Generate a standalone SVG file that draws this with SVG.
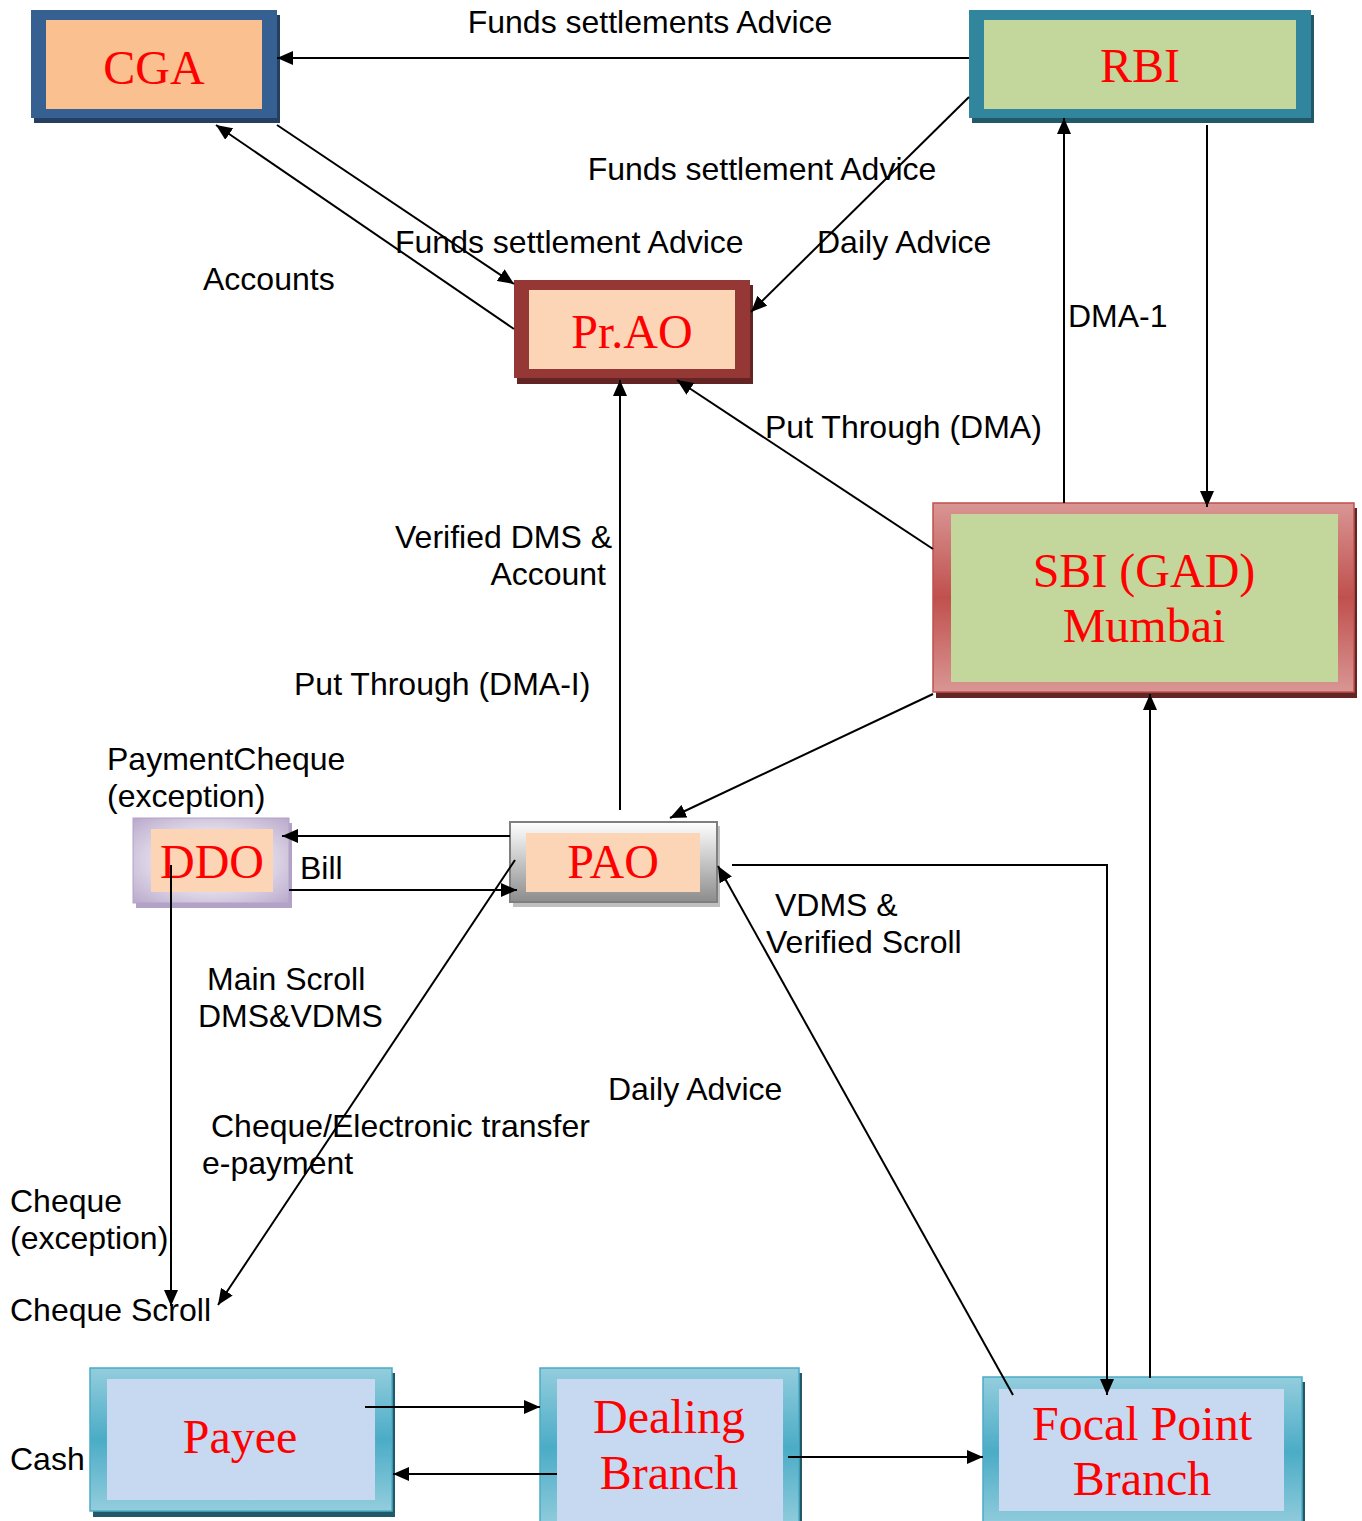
<svg xmlns="http://www.w3.org/2000/svg" width="1362" height="1521" viewBox="0 0 1362 1521">
<defs>
<style>
.lbl{font-family:"Liberation Sans",Arial,sans-serif;font-size:32px;fill:#000}
.nt{font-family:"Liberation Serif","Times New Roman",serif;font-size:48px;fill:#ff0000;text-anchor:middle}
.ln{fill:none;stroke:#000;stroke-width:2}
.arr{marker-end:url(#ah)}
</style>
<marker id="ah" viewBox="0 0 16 14" refX="16" refY="7" markerWidth="16" markerHeight="14" orient="auto" markerUnits="userSpaceOnUse"><path d="M0,0 L16,7 L0,14 z" fill="#000"/></marker>
<linearGradient id="gSbi" x1="0" y1="0" x2="0" y2="1"><stop offset="0" stop-color="#d99694"/><stop offset="0.5" stop-color="#c0504d"/><stop offset="1" stop-color="#d99694"/></linearGradient>
<linearGradient id="gCyan" x1="0" y1="0" x2="0" y2="1"><stop offset="0" stop-color="#93cddd"/><stop offset="0.5" stop-color="#4bacc6"/><stop offset="1" stop-color="#93cddd"/></linearGradient>
<linearGradient id="gPao" x1="0" y1="0" x2="0" y2="1"><stop offset="0" stop-color="#ffffff"/><stop offset="1" stop-color="#8c8c8c"/></linearGradient>
<radialGradient id="gDdo" cx="0.5" cy="0.5" r="0.75"><stop offset="0.3" stop-color="#f2eff6"/><stop offset="1" stop-color="#b3a2c7"/></radialGradient>
</defs>
<rect width="1362" height="1521" fill="#fff"/>

<g id="cga">
<rect x="34" y="15" width="246" height="108" fill="#243f60"/>
<rect x="31" y="10" width="246" height="108" fill="#366092"/>
<rect x="46" y="20" width="216" height="89" fill="#fac090"/>
<text class="nt" x="154" y="84">CGA</text>
</g>

<g id="rbi">
<rect x="972" y="15" width="342" height="108" fill="#215968"/>
<rect x="969" y="10" width="342" height="108" fill="#31859c"/>
<rect x="984" y="20" width="312" height="89" fill="#c3d69b"/>
<text class="nt" x="1140" y="82">RBI</text>
</g>

<g id="prao">
<rect x="517" y="285" width="236" height="99" fill="#632523"/>
<rect x="514" y="280" width="236" height="98" fill="#953735"/>
<rect x="529" y="290" width="206" height="79" fill="#fbd5b5"/>
<text class="nt" x="632" y="348">Pr.AO</text>
</g>

<g id="sbi">
<rect x="936" y="508" width="421" height="190" fill="#632523"/>
<rect x="933" y="503" width="421" height="189" fill="url(#gSbi)" stroke="#c0504d" stroke-width="1.5"/>
<rect x="951" y="514" width="387" height="168" fill="#c3d69b"/>
<text class="nt" x="1144" y="587">SBI (GAD)</text>
<text class="nt" x="1144" y="642">Mumbai</text>
</g>

<g id="ddo">
<rect x="136" y="823" width="156" height="85" fill="#b3a2c7"/>
<rect x="133" y="818" width="156" height="85" fill="url(#gDdo)" stroke="#b3a2c7" stroke-width="1"/>
<rect x="151" y="829" width="122" height="63" fill="#fbd5b5"/>
<text class="nt" x="212" y="878">DDO</text>
</g>

<g id="pao">
<rect x="513" y="826" width="207" height="81" fill="#bfbfbf"/>
<rect x="510" y="822" width="207" height="80" fill="url(#gPao)" stroke="#7f7f7f" stroke-width="2"/>
<rect x="526" y="833" width="174" height="59" fill="#fbd5b5"/>
<text class="nt" x="613" y="878">PAO</text>
</g>

<g id="payee">
<rect x="93" y="1373" width="302" height="144" fill="#215968"/>
<rect x="90" y="1368" width="302" height="143" fill="url(#gCyan)" stroke="#4bacc6" stroke-width="1.5"/>
<rect x="107" y="1379" width="268" height="121" fill="#c6d9f1"/>
<text class="nt" x="240" y="1453">Payee</text>
</g>

<g id="dealing">
<rect x="543" y="1373" width="259" height="160" fill="#215968"/>
<rect x="540" y="1368" width="259" height="160" fill="url(#gCyan)" stroke="#4bacc6" stroke-width="1.5"/>
<rect x="557" y="1379" width="226" height="160" fill="#c6d9f1"/>
<text class="nt" x="669" y="1433">Dealing</text>
<text class="nt" x="669" y="1489">Branch</text>
</g>

<g id="focal">
<rect x="986" y="1382" width="319" height="150" fill="#215968"/>
<rect x="983" y="1377" width="319" height="150" fill="url(#gCyan)" stroke="#4bacc6" stroke-width="1.5"/>
<rect x="999" y="1389" width="285" height="122" fill="#c6d9f1"/>
<text class="nt" x="1142" y="1440">Focal Point</text>
<text class="nt" x="1142" y="1495">Branch</text>
</g>

<g id="connectors">
<line class="ln arr" x1="969" y1="58" x2="277" y2="58"/>
<line class="ln arr" x1="969" y1="97" x2="751" y2="312"/>
<line class="ln arr" x1="277" y1="125" x2="514" y2="284"/>
<line class="ln arr" x1="514" y1="329" x2="216" y2="125"/>
<line class="ln arr" x1="1064" y1="503" x2="1064" y2="118"/>
<line class="ln arr" x1="1207" y1="125" x2="1207" y2="507"/>
<line class="ln arr" x1="933" y1="549" x2="677" y2="380"/>
<line class="ln arr" x1="620" y1="810" x2="620" y2="380"/>
<line class="ln arr" x1="933" y1="694" x2="670" y2="818"/>
<line class="ln arr" x1="510" y1="836" x2="282" y2="836"/>
<line class="ln arr" x1="289" y1="890" x2="517" y2="890"/>
<polyline class="ln arr" points="732,865 1107,865 1107,1395"/>
<line class="ln arr" x1="1150" y1="1378" x2="1150" y2="694"/>
<line class="ln arr" x1="1013" y1="1395" x2="718" y2="866"/>
<line class="ln arr" x1="515" y1="860" x2="218" y2="1305"/>
<line class="ln arr" x1="171" y1="865" x2="171" y2="1306"/>
<line class="ln arr" x1="365" y1="1407" x2="540" y2="1407"/>
<line class="ln arr" x1="557" y1="1474" x2="393" y2="1474"/>
<line class="ln arr" x1="788" y1="1457" x2="983" y2="1457"/>
</g>

<g id="labels">
<text class="lbl" x="650" y="33" text-anchor="middle">Funds settlements Advice</text>
<text class="lbl" x="762" y="180" text-anchor="middle">Funds settlement Advice</text>
<text class="lbl" x="817" y="253">Daily Advice</text>
<text class="lbl" x="395" y="253">Funds settlement Advice</text>
<text class="lbl" x="203" y="290">Accounts</text>
<text class="lbl" x="1068" y="327">DMA-1</text>
<text class="lbl" x="765" y="438">Put Through (DMA)</text>
<text class="lbl" x="612" y="548" text-anchor="end">Verified DMS &amp;</text>
<text class="lbl" x="606" y="585" text-anchor="end">Account</text>
<text class="lbl" x="294" y="695">Put Through (DMA-I)</text>
<text class="lbl" x="107" y="770">PaymentCheque</text>
<text class="lbl" x="107" y="807">(exception)</text>
<text class="lbl" x="300" y="879">Bill</text>
<text class="lbl" x="775" y="916">VDMS &amp;</text>
<text class="lbl" x="766" y="953">Verified Scroll</text>
<text class="lbl" x="207" y="990">Main Scroll</text>
<text class="lbl" x="198" y="1027">DMS&amp;VDMS</text>
<text class="lbl" x="608" y="1100">Daily Advice</text>
<text class="lbl" x="211" y="1137">Cheque/Electronic transfer</text>
<text class="lbl" x="202" y="1174">e-payment</text>
<text class="lbl" x="10" y="1212">Cheque</text>
<text class="lbl" x="10" y="1249">(exception)</text>
<text class="lbl" x="10" y="1321">Cheque Scroll</text>
<text class="lbl" x="10" y="1470">Cash</text>
</g>
</svg>
